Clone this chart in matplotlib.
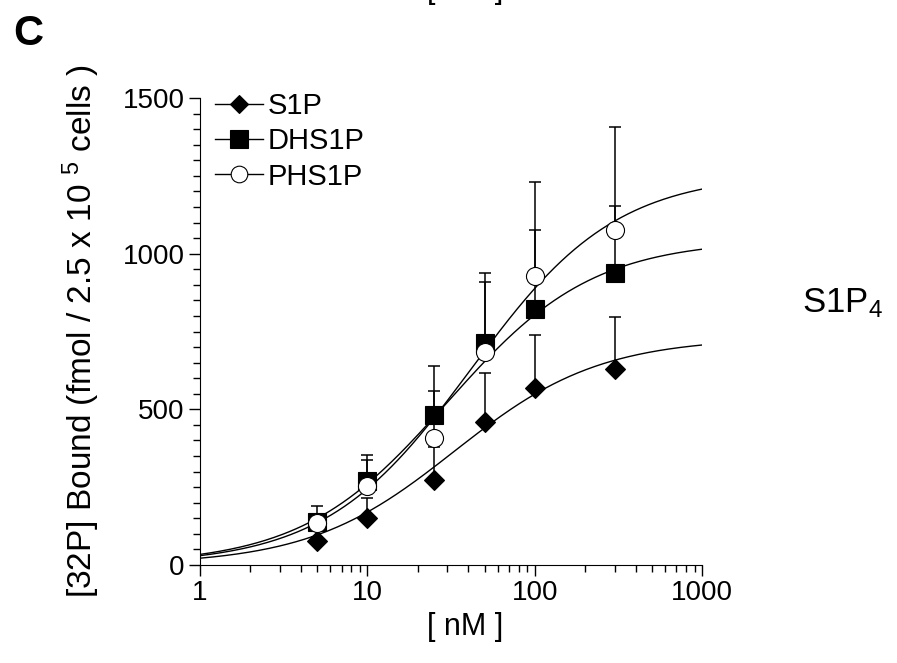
import numpy as np
import matplotlib
matplotlib.use('Agg')
import matplotlib.pyplot as plt
from matplotlib.ticker import MultipleLocator, FixedLocator

plt.rcParams['font.family'] = ['Liberation Sans', 'DejaVu Sans']
plt.rcParams['mathtext.fontset'] = 'custom'
plt.rcParams['mathtext.rm'] = 'Liberation Sans'
plt.rcParams['mathtext.it'] = 'Liberation Sans'

# data
conc = [5, 10, 25, 50, 100, 300]
names = ['S1P', 'DHS1P', 'PHS1P']
s1p = [77, 152, 273, 460, 567, 630]
s1p_err = [12, 64, 107, 158, 172, 167]
dhs1p = [139, 270, 482, 712, 821, 939]
dhs1p_err = [50, 83, 157, 227, 256, 214]
phs1p = [136, 254, 409, 685, 929, 1076]
phs1p_err = [25, 83, 151, 225, 300, 332]

# one-site fit parameters (Bmax, Kd) for each curve
bmax = [730, 1045, 1258]
kd = [33, 30, 41.5]

markers = ['D', 's', 'o']
msizes = [10, 13.5, 13]
faces = ['black', 'black', 'white']

fig = plt.figure(figsize=(8.97, 6.63), dpi=100)
ax = fig.add_axes([0.223, 0.148, 0.56, 0.704])

xx = np.logspace(0, 3, 300)
series = [s1p, dhs1p, phs1p]
errs = [s1p_err, dhs1p_err, phs1p_err]
for i in range(3):
    ax.plot(xx, bmax[i] * xx / (kd[i] + xx), color='black', lw=1, zorder=2)
for i in range(3):
    ax.errorbar(conc, series[i], yerr=[np.zeros(len(conc)), errs[i]], fmt='none',
                ecolor='black', elinewidth=1.1, capsize=4.5, capthick=1.1, zorder=3)
for i in range(3):
    ax.plot(conc, series[i], ls='none', marker=markers[i], ms=msizes[i],
            mfc=faces[i], mec='black', mew=0.8, zorder=4)

# legend handles (line + marker)
handles = []
for i in range(3):
    h, = ax.plot([], [], color='black', lw=1, marker=markers[i], ms=msizes[i] * 0.92,
                 mfc=faces[i], mec='black', mew=0.8)
    handles.append(h)
fig.legend(handles, names, loc='upper left', bbox_to_anchor=(215 / 897, 1 - 92 / 663),
           frameon=False, fontsize=21, handlelength=1.65, handletextpad=0.17,
           labelspacing=0.25, borderpad=0, borderaxespad=0)

ax.set_xscale('log')
ax.set_xlim(1, 1000)
ax.set_ylim(0, 1500)
ax.yaxis.set_major_locator(FixedLocator([0, 500, 1000, 1500]))
ax.yaxis.set_minor_locator(MultipleLocator(50))
ax.set_xticks([1, 10, 100, 1000])
ax.set_xticklabels(['1', '10', '100', '1000'])
ax.set_yticklabels(['0', '500', '1000', '1500'])

ax.spines['top'].set_visible(False)
ax.spines['right'].set_visible(False)
ax.tick_params(which='major', direction='out', length=8, width=1, labelsize=20, pad=3)
ax.tick_params(which='minor', direction='out', length=5, width=1)

ax.set_xlabel('[ nM ]', fontsize=22)
ax.xaxis.set_label_coords(0.528, -0.1)
ax.set_ylabel(r'[32P] Bound (fmol / 2.5 x 10 $^{5}$ cells )', fontsize=24, labelpad=15)

fig.text(13 / 897, 1 - 34 / 663, 'C', fontsize=30, fontweight='bold', va='center')
fig.text(465 / 897, 1 - 5 / 663, '[ nM ]', fontsize=22, ha='center', va='bottom')
fig.text(802 / 897, 1 - 312 / 663, r'S1P$_{4}$', fontsize=25, va='baseline')

fig.savefig('out.png', dpi=100)
